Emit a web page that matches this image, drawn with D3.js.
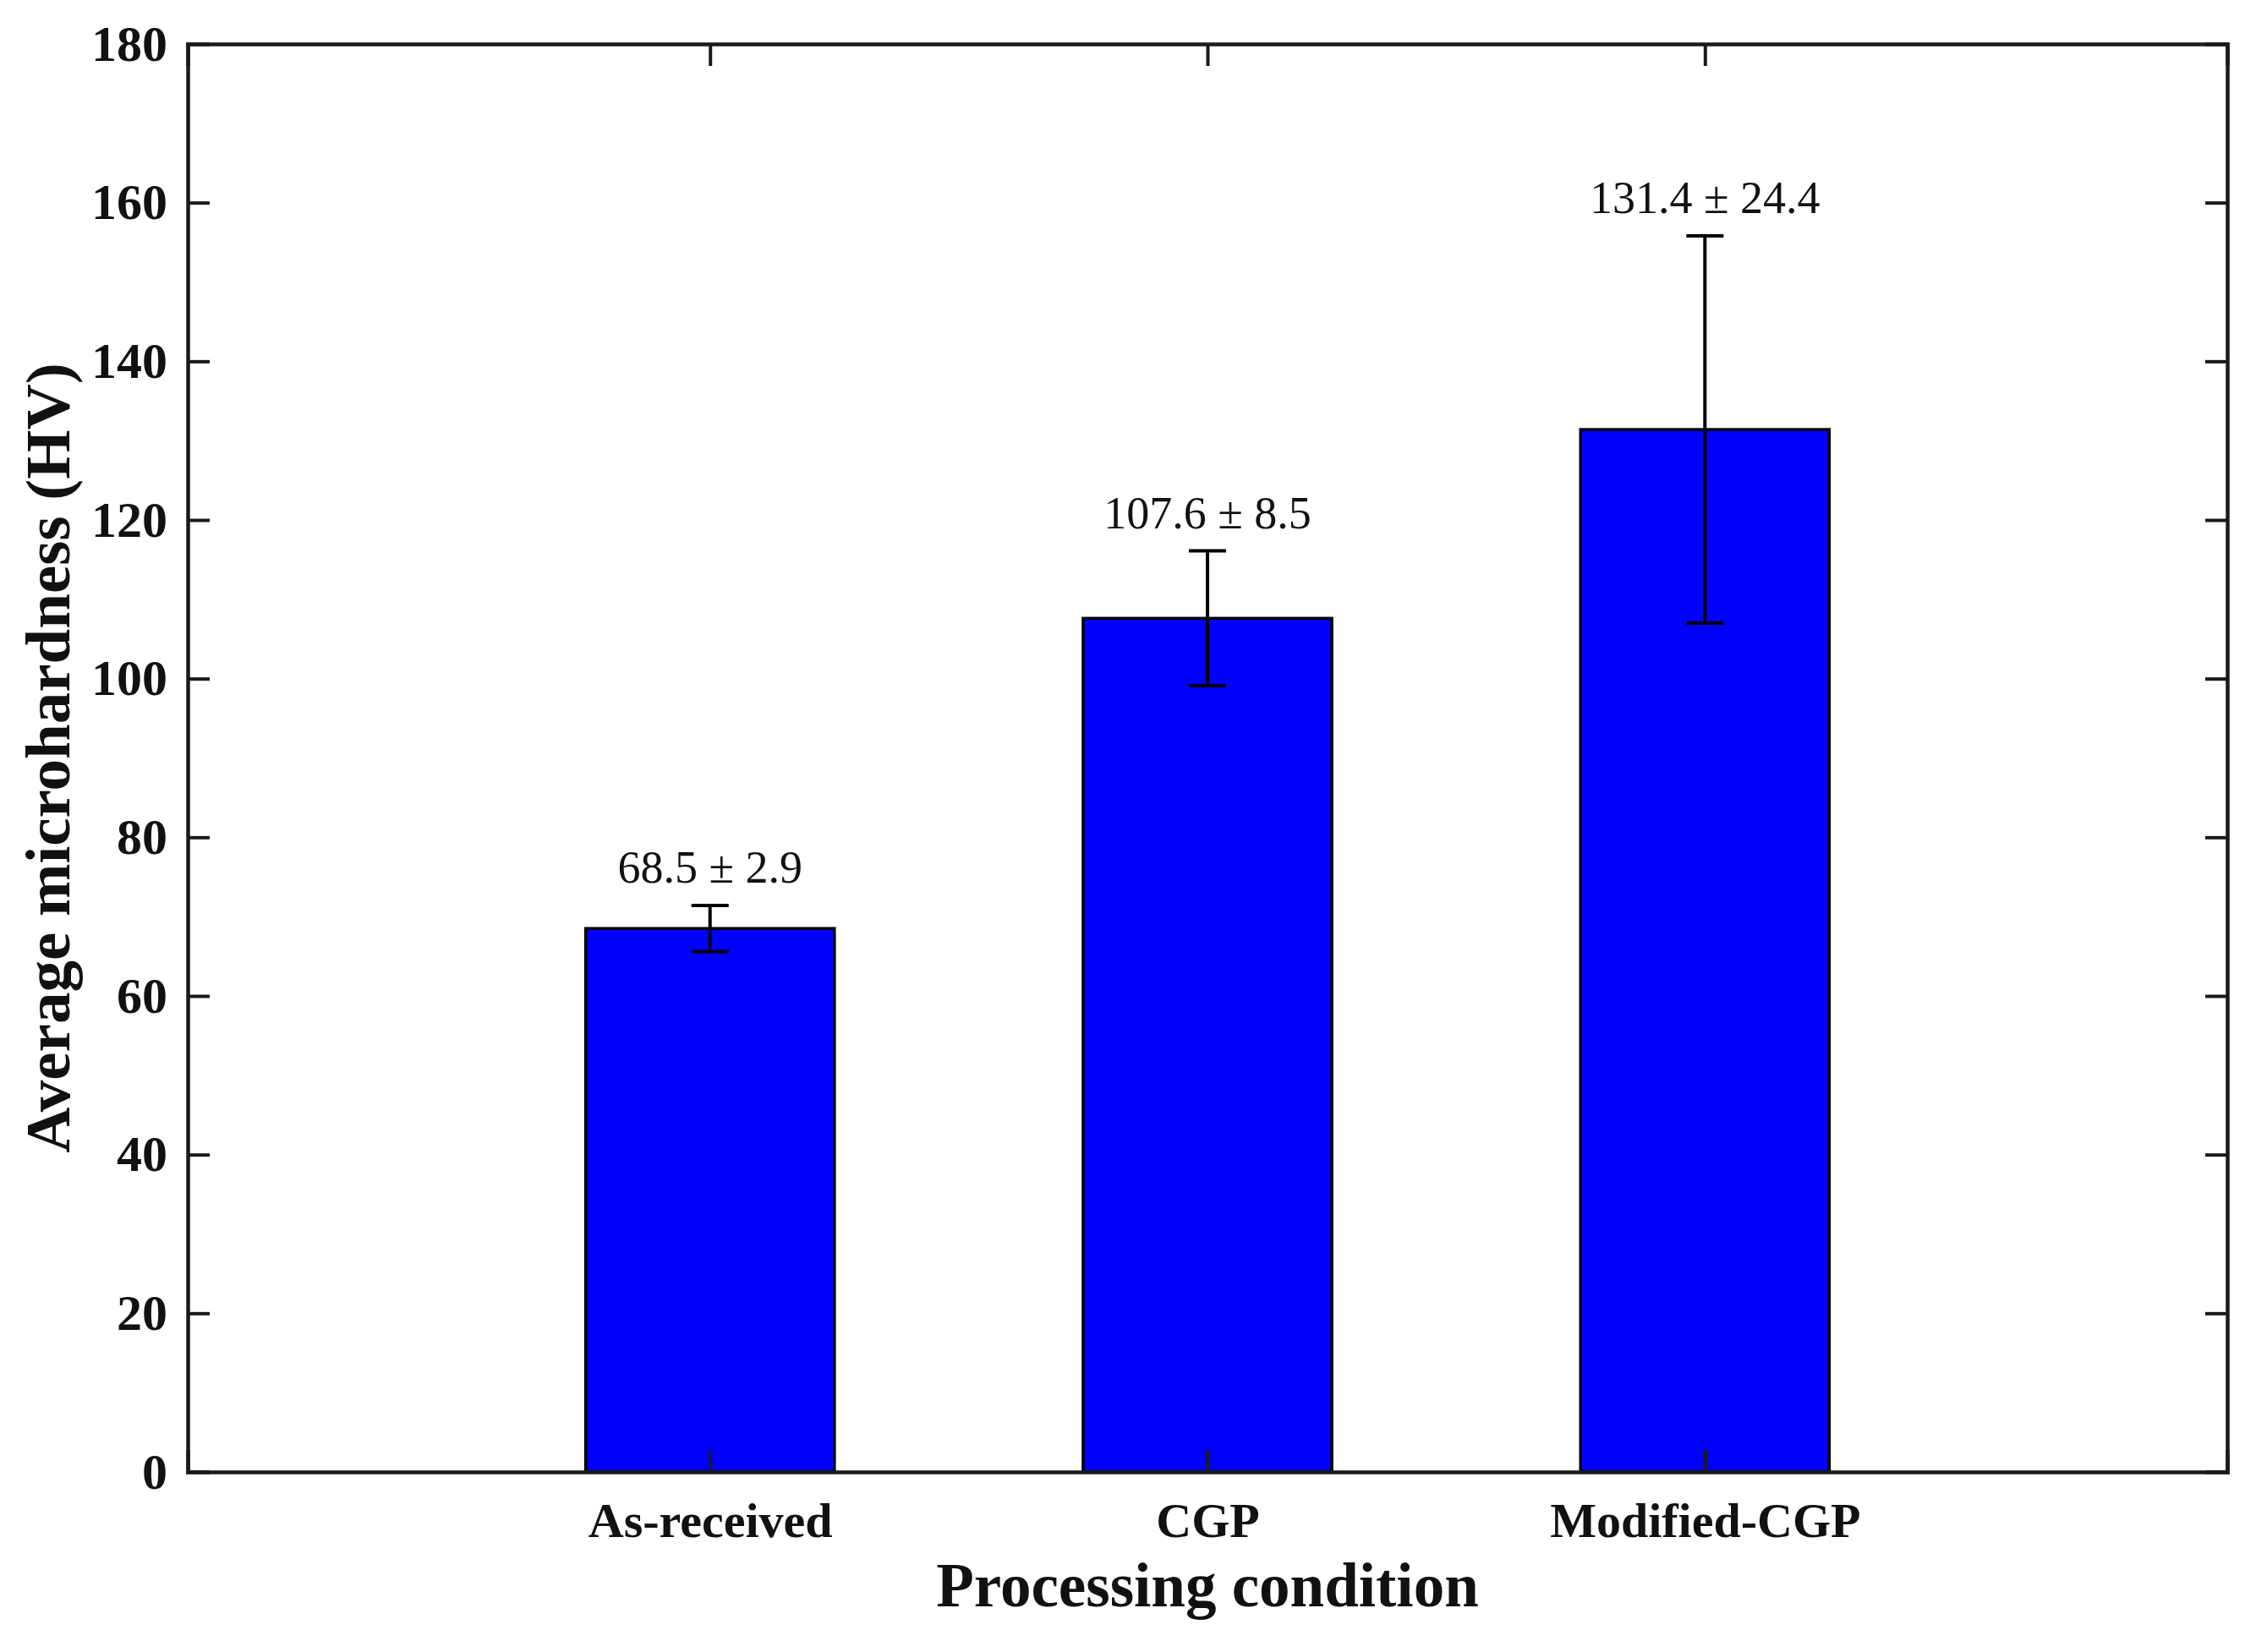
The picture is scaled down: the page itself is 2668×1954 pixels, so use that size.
<!DOCTYPE html>
<html>
<head>
<meta charset="utf-8">
<script src="https://cdn.jsdelivr.net/npm/d3@7"></script>
<style>
  body { margin: 0; background: #fff; }
  text { font-family: "Liberation Serif", "Times New Roman", serif; }
</style>
</head>
<body>
<div id="chart"></div>
<script>
// chart data
const categories = ["As-received", "CGP", "Modified-CGP"];
const means = [68.5, 107.6, 131.4];
const errors = [2.9, 8.5, 24.4];
const yTicks = [0, 20, 40, 60, 80, 100, 120, 140, 160, 180];

const width = 2668, height = 1954;
const margin = { left: 222, right: 34, top: 52, bottom: 213 };

const svg = d3.select("#chart").append("svg")
    .attr("width", width)
    .attr("height", height);

// category positions 1..3 on a linear axis like the original
let x = d3.scaleLinear()
    .domain([-0.05, 4.05])
    .range([margin.left, width - margin.right]);

let y = d3.scaleLinear()
    .domain([0, 180])
    .range([height - margin.bottom, margin.top]);

const barW = x(1.25) - x(0.75);
const capW = 44;
const tickLen = 26;
const axisColor = "#1a1a1a";

const data = categories.map((c, i) => ({ name: c, pos: i + 1, mean: means[i], err: errors[i] }));

// bars
svg.selectAll("rect.bar")
    .data(data)
    .enter().append("rect")
    .attr("class", "bar")
    .attr("x", d => x(d.pos) - barW / 2)
    .attr("width", barW)
    .attr("y", d => y(d.mean))
    .attr("height", d => y(0) - y(d.mean))
    .attr("fill", "#0000ff")
    .attr("stroke", "#000")
    .attr("stroke-width", 3.5);

// error bars
const eb = svg.selectAll("g.err")
    .data(data)
    .enter().append("g")
    .attr("class", "err")
    .attr("stroke", "#000")
    .attr("stroke-width", 4);

eb.append("line")
    .attr("x1", d => x(d.pos)).attr("x2", d => x(d.pos))
    .attr("y1", d => y(d.mean - d.err)).attr("y2", d => y(d.mean + d.err));
eb.append("line")
    .attr("x1", d => x(d.pos) - capW / 2).attr("x2", d => x(d.pos) + capW / 2)
    .attr("y1", d => y(d.mean + d.err)).attr("y2", d => y(d.mean + d.err));
eb.append("line")
    .attr("x1", d => x(d.pos) - capW / 2).attr("x2", d => x(d.pos) + capW / 2)
    .attr("y1", d => y(d.mean - d.err)).attr("y2", d => y(d.mean - d.err));

// value labels
svg.selectAll("text.val")
    .data(data)
    .enter().append("text")
    .attr("class", "val")
    .attr("x", d => x(d.pos))
    .attr("y", d => y(d.mean + d.err) - 27)
    .attr("text-anchor", "middle")
    .attr("font-size", 54)
    .attr("fill", "#111")
    .text(d => `${d.mean.toFixed(1)} \u00b1 ${d.err.toFixed(1)}`);

// axes: ticks point inward on all four sides
const axLeft = svg.append("g")
    .attr("transform", `translate(${margin.left},0)`)
    .call(d3.axisLeft(y).tickValues(yTicks).tickSize(-tickLen).tickPadding(24));
const axRight = svg.append("g")
    .attr("transform", `translate(${x.range()[1]},0)`)
    .call(d3.axisRight(y).tickValues(yTicks).tickSize(-tickLen).tickFormat(""));
const axBottom = svg.append("g")
    .attr("transform", `translate(0,${y(0)})`)
    .call(d3.axisBottom(x).tickValues([1, 2, 3]).tickSize(-tickLen).tickPadding(36)
        .tickFormat(d => categories[d - 1]));
const axTop = svg.append("g")
    .attr("transform", `translate(0,${y(180)})`)
    .call(d3.axisTop(x).tickValues([1, 2, 3]).tickSize(-tickLen).tickFormat(""));

[axLeft, axRight, axBottom, axTop].forEach(g => {
    g.selectAll(".domain").attr("stroke", axisColor).attr("stroke-width", 4.5);
    g.selectAll(".tick line").attr("stroke", axisColor).attr("stroke-width", 4);
    g.selectAll("text")
        .attr("font-family", "Liberation Serif, Times New Roman, serif")
        .attr("font-weight", "bold")
        .attr("fill", "#111");
});
axLeft.selectAll("text").attr("font-size", 60);
axBottom.selectAll("text").attr("font-size", 58);

// no ticks at the frame corners
axLeft.selectAll(".tick").filter(d => d === 0 || d === 180).select("line").remove();
axRight.selectAll(".tick").filter(d => d === 0 || d === 180).select("line").remove();

// axis titles
svg.append("text")
    .attr("transform", `translate(82,${(y(0) + y(180)) / 2}) rotate(-90)`)
    .attr("text-anchor", "middle")
    .attr("font-weight", "bold")
    .attr("font-size", 75)
    .attr("fill", "#111")
    .text("Average microhardness (HV)");

svg.append("text")
    .attr("x", (x.range()[0] + x.range()[1]) / 2)
    .attr("y", 1900)
    .attr("text-anchor", "middle")
    .attr("font-weight", "bold")
    .attr("font-size", 73)
    .attr("fill", "#111")
    .text("Processing condition");
</script>
</body>
</html>
